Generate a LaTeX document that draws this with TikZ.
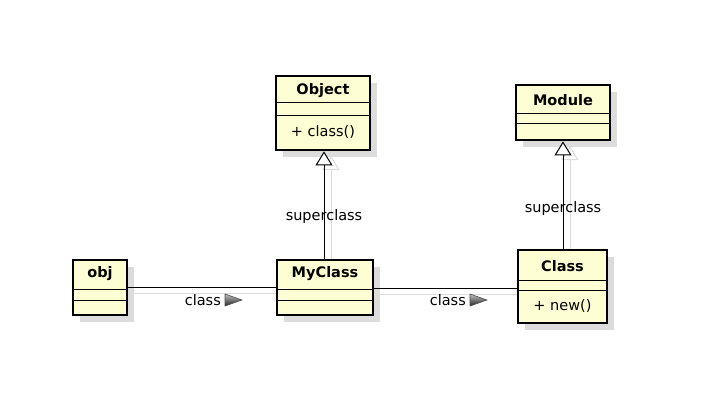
\documentclass[tikz,border=0pt]{standalone}
\usepackage{fontspec}
\setmainfont{DejaVu Sans}
\usetikzlibrary{arrows.meta,shadows}
\definecolor{clsfill}{HTML}{FEFED4}
\definecolor{shadowc}{HTML}{DCDCDC}
\tikzset{
  umlbox/.style={draw=black, line width=2.8pt, fill=clsfill, inner sep=0pt,
    drop shadow={shadow xshift=7pt, shadow yshift=-7pt, fill=shadowc, opacity=1}},
  sepline/.style={draw=black, line width=1pt},
  ttl/.style={font=\fontsize{14.5}{16}\selectfont\bfseries, inner sep=0pt},
  mem/.style={font=\fontsize{14.5}{16}\selectfont, inner sep=0pt},
  lbl/.style={font=\fontsize{14.5}{16}\selectfont, inner sep=0pt},
  assoc/.style={draw=black, line width=1pt},
  shline/.style={draw=shadowc, line width=1pt},
  gen/.style={draw=black, line width=1pt, -{Triangle[open, width=17pt, length=14pt, fill=white]}},
  genshadow/.style={draw=shadowc, line width=1pt, -{Triangle[open, width=17pt, length=14pt, fill=white]}},
  navtri/.style={draw=black!70, line width=0.6pt, top color=black!25, bottom color=black!85}
}
\begin{document}
\begin{tikzpicture}[x=1pt,y=-1pt]
\useasboundingbox (0,0) rectangle (727,401);

% association / generalization shadows (behind)
\draw[shline] (133,293) -- (283,293);
\draw[shline] (379,294) -- (524,294);
\draw[genshadow] (331,266) -- (331,156);
\draw[genshadow] (570,256) -- (570,146);

% class boxes
\node[umlbox, minimum width=94pt, minimum height=74pt] (object) at (323,113) {};
\node[umlbox, minimum width=94pt, minimum height=55pt] (module) at (563,112.5) {};
\node[umlbox, minimum width=54pt, minimum height=55pt] (obj) at (100,287.5) {};
\node[umlbox, minimum width=96pt, minimum height=55pt] (myclass) at (325,287.5) {};
\node[umlbox, minimum width=89pt, minimum height=73pt] (class) at (562.5,286.5) {};

% compartments
\draw[sepline] (object.west |- 0,103) -- (object.east |- 0,103);
\draw[sepline] (object.west |- 0,115) -- (object.east |- 0,115);
\draw[sepline] (module.west |- 0,113) -- (module.east |- 0,113);
\draw[sepline] (module.west |- 0,123) -- (module.east |- 0,123);
\draw[sepline] (obj.west |- 0,289) -- (obj.east |- 0,289);
\draw[sepline] (obj.west |- 0,300) -- (obj.east |- 0,300);
\draw[sepline] (myclass.west |- 0,289) -- (myclass.east |- 0,289);
\draw[sepline] (myclass.west |- 0,300) -- (myclass.east |- 0,300);
\draw[sepline] (class.west |- 0,280) -- (class.east |- 0,280);
\draw[sepline] (class.west |- 0,290) -- (class.east |- 0,290);

% titles and members
\node[ttl] (objectT) at (323,91) {Object};
\node[mem] (objectM) at (323,132) {+ class()};
\node[ttl] (moduleT) at (563,100) {Module};
\node[ttl] (objT) at (100,274) {obj};
\node[ttl] (myclassT) at (325,274) {MyClass};
\node[ttl] (classT) at (562.5,266) {Class};
\node[mem] (classM) at (562.5,306) {+ new()};

% associations
\coordinate (a1s) at (obj.east |- 0,287);
\coordinate (a1e) at (myclass.west |- 0,287);
\draw[assoc] (a1s) -- (a1e);
\coordinate (a2s) at (myclass.east |- 0,288);
\coordinate (a2e) at (class.west |- 0,288);
\draw[assoc] (a2s) -- (a2e);

\node[lbl, anchor=east] (cl1) at (221,300) {class};
\draw[navtri] (225,294) -- (242,300) -- (225,306) -- cycle;
\node[lbl, anchor=east] (cl2) at (466,300) {class};
\draw[navtri] (470,294) -- (487,300) -- (470,306) -- cycle;

% generalizations
\draw[gen] (myclass.north -| 324,0) -- (object.south -| 324,0);
\draw[gen] (class.north -| 563,0) -- (module.south -| 563,0);
\node[lbl] (sup1) at (324,216) {superclass};
\node[lbl] (sup2) at (563,208) {superclass};
\end{tikzpicture}
\end{document}
